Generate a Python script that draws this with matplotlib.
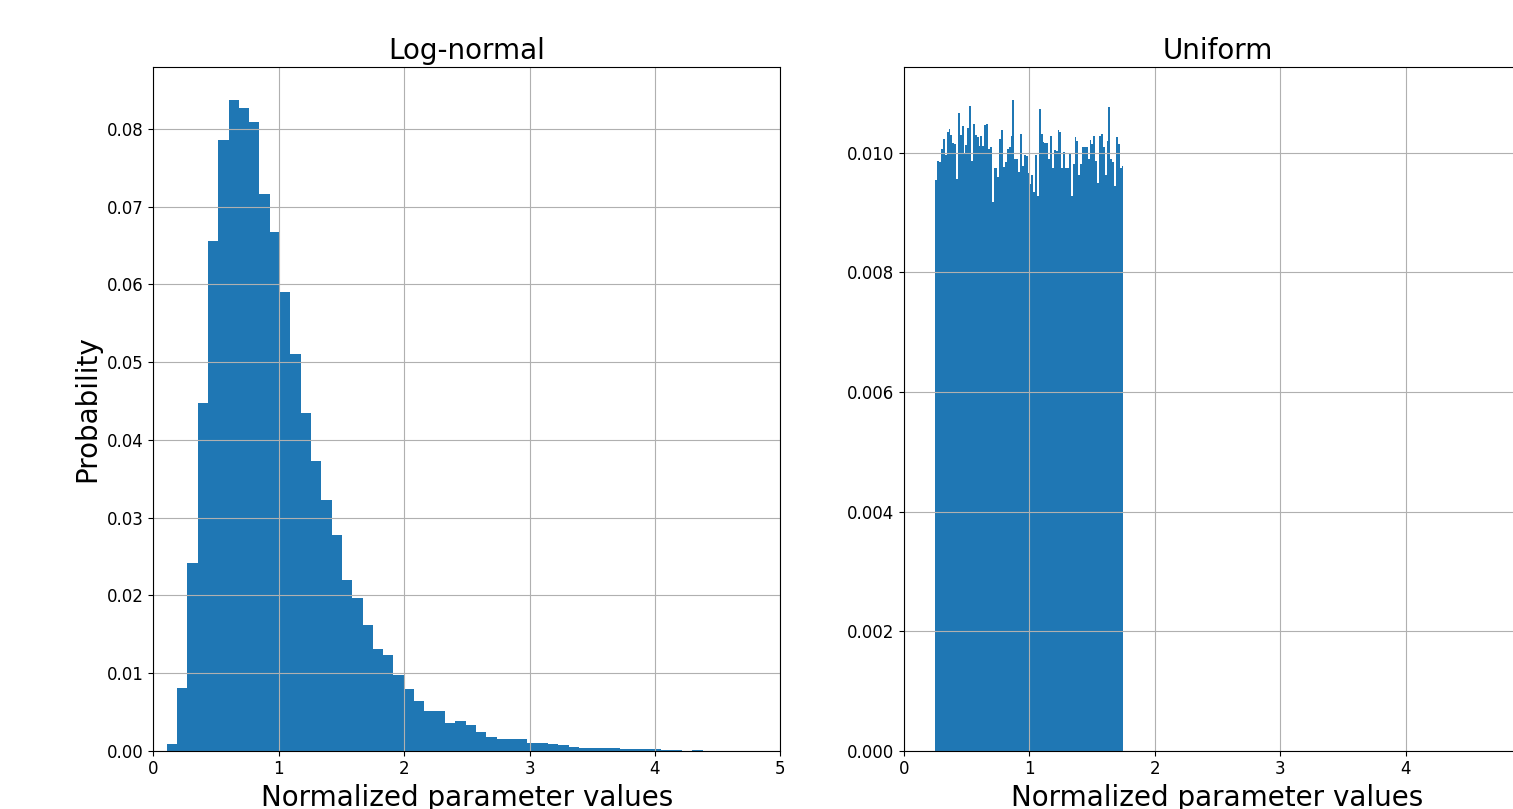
import numpy as np
import matplotlib
matplotlib.use("Agg")
import matplotlib.pyplot as plt

# ---- Log-normal histogram (probability per bin) ----
lognormal_first_edge = 0.107
lognormal_bin_width = 0.0822
lognormal_probs = [
    0.00086, 0.00807, 0.0242, 0.0448, 0.0656, 0.0786, 0.0838, 0.0827, 0.0809, 0.0717,
    0.0667, 0.0590, 0.0510, 0.0435, 0.0373, 0.0323, 0.0277, 0.0220, 0.0197, 0.0162,
    0.0131, 0.0123, 0.00974, 0.0079, 0.0064, 0.0051, 0.0051, 0.0036, 0.0038, 0.0033,
    0.0024, 0.0018, 0.00146, 0.00146, 0.00146, 0.00103, 0.00103, 0.00086, 0.00069, 0.00051,
    0.0003, 0.0003, 0.0003, 0.0003, 0.00017, 0.00017, 0.00017, 0.00017, 0.00015, 0.00015,
    0.0, 0.00015,
]

# ---- Uniform histogram (probability per bin) ----
uniform_low = 0.25
uniform_high = 1.75
uniform_probs = [
    0.00955, 0.00986, 0.00984, 0.01007, 0.01023, 0.00996, 0.01034, 0.01040, 0.01030, 0.01017,
    0.01014, 0.00956, 0.01067, 0.01030, 0.01044, 0.00998, 0.01013, 0.01042, 0.01078, 0.00987,
    0.01048, 0.01030, 0.01026, 0.01012, 0.01028, 0.01012, 0.01046, 0.01048, 0.01006, 0.01009,
    0.00918, 0.00974, 0.00974, 0.00959, 0.01023, 0.01038, 0.00977, 0.00985, 0.01006, 0.01009,
    0.01028, 0.01089, 0.00989, 0.00989, 0.00968, 0.01031, 0.00978, 0.00996, 0.00994, 0.00967,
    0.00948, 0.00962, 0.00934, 0.00996, 0.00928, 0.01073, 0.01031, 0.01018, 0.01017, 0.01017,
    0.00989, 0.01028, 0.00975, 0.01005, 0.01003, 0.01038, 0.01034, 0.00975, 0.01001, 0.00975,
    0.00975, 0.00999, 0.00928, 0.00981, 0.01026, 0.01020, 0.00962, 0.00981, 0.01009, 0.01010,
    0.01009, 0.00989, 0.01022, 0.01014, 0.01028, 0.00987, 0.00950, 0.01028, 0.01031, 0.01009,
    0.00962, 0.01020, 0.01076, 0.00989, 0.00984, 0.00945, 0.01026, 0.01014, 0.00975, 0.00978,
]

titles = ["Log-normal", "Uniform"]
xlabel = "Normalized parameter values"
ylabel = "Probability"
xticks_left = [0, 1, 2, 3, 4, 5]
xticks_right = [0, 1, 2, 3, 4]

W, H = 1513, 809
fig = plt.figure(figsize=(W / 100, H / 100), dpi=100)

ax1 = fig.add_axes([153.3 / W, (H - 750.7) / H, 627 / W, 683.7 / H])
ax2 = fig.add_axes([904.0 / W, (H - 750.7) / H, 627 / W, 683.7 / H])

ln_edges = lognormal_first_edge + lognormal_bin_width * np.arange(len(lognormal_probs) + 1)
ln_centers = 0.5 * (ln_edges[:-1] + ln_edges[1:])
ax1.hist(ln_centers, bins=ln_edges, weights=lognormal_probs, color="#1f77b4")

un_edges = np.linspace(uniform_low, uniform_high, len(uniform_probs) + 1)
un_centers = 0.5 * (un_edges[:-1] + un_edges[1:])
ax2.hist(un_centers, bins=un_edges, weights=uniform_probs, color="#1f77b4")

for ax, t, tk in zip([ax1, ax2], titles, [xticks_left, xticks_right]):
    ax.set_xlim(0, 5)
    ax.set_xticks(tk)
    ax.grid(True)
    ax.set_title(t, fontsize=20)
    ax.set_xlabel(xlabel, fontsize=20)
    ax.tick_params(labelsize=12)

ax1.set_ylabel(ylabel, fontsize=20)

fig.savefig("out.png", dpi=100)
